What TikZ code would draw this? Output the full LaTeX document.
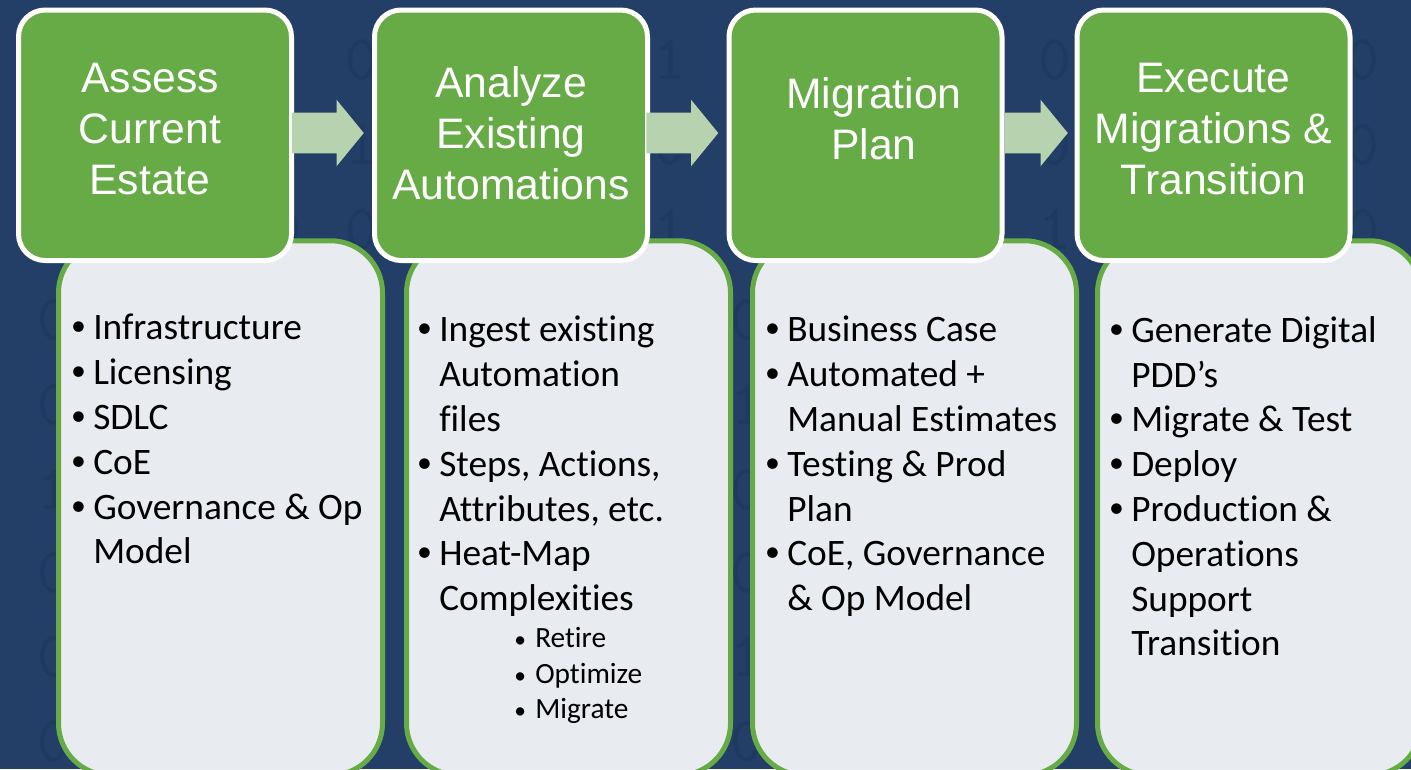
\documentclass[tikz,border=0pt]{standalone}
\usepackage{fontspec}
\setmainfont[Ligatures=CommonOff]{Carlito}
\newfontfamily\headfont{Liberation Sans}
\usetikzlibrary{shapes.arrows}
\definecolor{navyback}{HTML}{233F67}
\definecolor{navydigit}{HTML}{1F3A60}
\definecolor{stepgreen}{HTML}{67AB46}
\definecolor{paneltint}{HTML}{E9ECF1}
\definecolor{arrowtint}{HTML}{B7D2AF}
\def\px{0.75pt}
\newcommand{\bitem}{\leavevmode\llap{\raisebox{3pt}{\scalebox{0.8}{\textbullet}}\hspace{5.5pt}}}
\newcommand{\sitem}{\leavevmode\llap{\scalebox{0.8}{\textbullet}\hspace{7pt}}}
\tikzset{
	stepbox/.style={draw=white, fill=stepgreen, line width=5*\px, rounded corners=20pt, outer sep=0pt,
		minimum width=273*\px, minimum height=250.5*\px},
	steptitle/.style={text=white, align=center, inner sep=0pt, font=\headfont\fontsize{32}{38.3}\selectfont},
	detailbox/.style={draw=stepgreen, fill=paneltint, fill opacity=0.995, line width=5*\px, rounded corners=39pt,
		minimum width=324*\px, minimum height=534.5*\px},
	detailtext/.style={text=black, align=left, anchor=north west, inner sep=0pt, font=\fontsize{28}{33.6}\selectfont},
	subtext/.style={text=black, align=left, anchor=north west, inner sep=0pt, font=\fontsize{22}{26.3}\selectfont},
	flowarrow/.style={single arrow, fill=arrowtint, inner xsep=0pt, inner ysep=20*\px, anchor=tail, single arrow head extend=13*\px,
		single arrow tip angle=101.4, minimum height=72*\px, yshift=2.25*\px},
	bgdigit/.style={text=navydigit, inner sep=0pt, font=\ttfamily\fontsize{48}{48}\selectfont}
}
\begin{document}
\begin{tikzpicture}[x=0.75pt, y=-0.75pt]
	\useasboundingbox (0,0) rectangle (1411,769);
	\clip (0,0) rectangle (1411,769);
	\fill[navyback] (0,0) rectangle (1411,769);

	% binary watermark
	\foreach \rowy/\bits in {
		60/{0,1,0,1,0,1,1,0,1,0,0,1,1,0,0,1,0,0},
		145/{1,0,0,1,1,0,1,0,0,1,0,0,1,0,1,1,0,0},
		230/{0,1,1,0,0,0,1,1,1,0,1,0,0,1,0,0,1,0},
		320/{0,1,0,0,0,1,0,1,0,0,1,1,0,0,1,0,0,1},
		405/{0,1,0,0,0,0,1,0,0,1,0,1,1,0,0,1,0,0},
		490/{1,0,1,1,0,1,0,0,1,0,1,1,0,1,1,0,0,1},
		573/{0,1,0,1,1,0,1,1,0,0,1,0,1,1,0,0,1,0},
		657/{0,1,0,0,1,0,0,1,0,1,1,1,0,1,0,0,1,0},
		742/{0,1,0,1,1,0,1,1,0,0,1,0,0,1,1,1,1,0}}
	{
		\foreach \d [count=\c from 0, evaluate=\c as \dx using 54+77*\c] in \bits
			\node[bgdigit] (digit\rowy-\c) at (\dx,\rowy) {\d};
	}

	% lower panels
	\node[detailbox] (assesspanel) at (220.5,508) {};
	\node[detailbox] (analyzepanel) at (568.5,508) {};
	\node[detailbox] (planpanel) at (914.5,508) {};
	\node[detailbox] (executepanel) at (1259.5,508) {};

	\node[detailtext] (assesslist) at (93,314) {\bitem Infrastructure\\\bitem Licensing\\\bitem SDLC\\\bitem CoE\\\bitem Governance \& Op\\Model};
	\node[detailtext] (analyzelist) at (439,316) {\bitem Ingest existing\\Automation\\files\\\bitem Steps, Actions,\\Attributes, etc.\\\bitem Heat-Map\\Complexities};
	\node[subtext] (analyzesub) at (535,627.5) {\sitem Retire\\\sitem Optimize\\\sitem Migrate};
	\node[detailtext] (planlist) at (787,316) {\bitem Business Case\\\bitem Automated +\\Manual Estimates\\\bitem Testing \& Prod\\Plan\\\bitem CoE, Governance\\\& Op Model};
	\node[detailtext] (executelist) at (1131,316) {\bitem Generate Digital\\PDD’s\\\bitem Migrate \& Test\\\bitem Deploy\\\bitem Production \&\\Operations\\Support\\Transition};

	% upper steps
	\node[stepbox] (assess) at (155,135.25) {};
	\node[stepbox] (analyze) at (511,135.25) {};
	\node[stepbox] (plan) at (865.5,135.25) {};
	\node[stepbox] (execute) at (1213.5,135.25) {};

	\node[steptitle] (assesstitle) at (150,129) {Assess\\Current\\Estate};
	\node[steptitle] (analyzetitle) at (511,133) {Analyze\\Existing\\Automations};
	\node[steptitle] (plantitle) at (874,118.5) {Migration\\Plan};
	\node[steptitle] (executetitle) at (1213.5,129) {Execute\\Migrations \&\\Transition};

	\node[flowarrow] (assessarrow) at (assess.east) {};
	\node[flowarrow] (analyzearrow) at ([xshift=-1.5*\px]analyze.east) {};
	\node[flowarrow, minimum height=63*\px] (planarrow) at ([xshift=2.5*\px]plan.east) {};
\end{tikzpicture}
\end{document}
